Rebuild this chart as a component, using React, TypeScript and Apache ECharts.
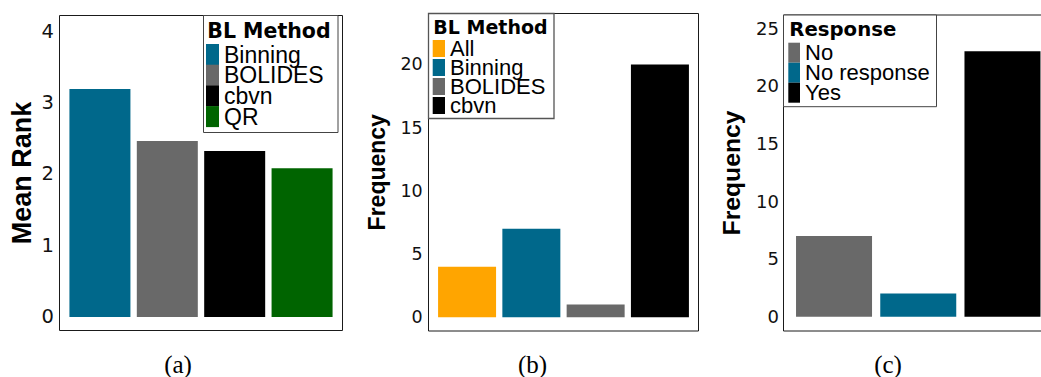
import React, { useEffect, useRef } from "react";
import * as echarts from "echarts";

// ---------- data ----------
const methodsA = ["Binning", "BOLIDES", "cbvn", "QR"];
const meanRankA = [3.19, 2.46, 2.32, 2.08];
const colorsA = ["#00688B", "#696969", "#000000", "#006400"];
const ticksA = [0, 1, 2, 3, 4];

const methodsB = ["All", "Binning", "BOLIDES", "cbvn"];
const freqB = [4, 7, 1, 20];
const colorsB = ["#FFA500", "#00688B", "#696969", "#000000"];
const ticksB = [0, 5, 10, 15, 20];

const responsesC = ["No", "No response", "Yes"];
const freqC = [7, 2, 23];
const colorsC = ["#696969", "#00688B", "#000000"];
const ticksC = [0, 5, 10, 15, 20, 25];

const captions = ["(a)", "(b)", "(c)"];

// ---------- styling ----------
const SANS = "'Liberation Sans', Arial, sans-serif";
const DV = "'DejaVu Sans', sans-serif";
const SERIF = "'Liberation Serif', 'Times New Roman', serif";

const mkSeries = (names: string[], values: number[], colors: string[], idx: number, barWidth: number) =>
  names.map((n, i) => ({
    type: "bar",
    name: n,
    xAxisIndex: idx,
    yAxisIndex: idx,
    data: [[i + 1, values[i]]],
    barWidth,
    barGap: "-100%",
    itemStyle: { color: colors[i] },
    silent: true,
  }));

const mkYAxis = (idx: number, min: number, max: number, ticks: number[], name: string, nameSize: number, nameGap: number, labelSize: number, margin: number) => ({
  type: "value",
  gridIndex: idx,
  min,
  max,
  axisLine: { show: false },
  axisTick: { show: false },
  splitLine: { show: false },
  axisLabel: {
    customValues: ticks,
    fontFamily: DV,
    fontSize: labelSize,
    color: "#111",
    margin,
    formatter: (v: number) => (ticks.indexOf(v) >= 0 ? String(v) : ""),
  },
  name,
  nameLocation: "middle",
  nameRotate: 90,
  nameGap,
  nameTextStyle: { fontFamily: SANS, fontWeight: "bold", fontSize: nameSize, color: "#000" },
});

const mkXAxis = (idx: number, n: number) => ({
  type: "value",
  gridIndex: idx,
  min: 0.4,
  max: n + 0.6,
  show: false,
});

const mkLegend = (names: string[], left: number, top: number, iw: number, ih: number, gap: number, fs: number) => ({
  data: names,
  orient: "vertical",
  left,
  top,
  itemWidth: iw,
  itemHeight: ih,
  itemGap: gap,
  padding: 0,
  icon: "rect",
  selectedMode: false,
  z: 10,
  itemStyle: { borderWidth: 0 },
  textStyle: { fontFamily: SANS, fontSize: fs, color: "#000" },
});

const gridStyle = { show: true, borderColor: "#1a1a1a", borderWidth: 1, backgroundColor: "transparent" };

const option = {
  animation: false,
  backgroundColor: "#fff",
  grid: [
    { left: 59.5, top: 15.5, width: 283, height: 315, ...gridStyle },
    { left: 428.5, top: 13.5, width: 270, height: 317.5, ...gridStyle },
    { left: 783.5, top: 15, width: 269.5, height: 316, ...gridStyle },
  ],
  xAxis: [mkXAxis(0, methodsA.length), mkXAxis(1, methodsB.length), mkXAxis(2, responsesC.length)],
  yAxis: [
    mkYAxis(0, -0.19, 4.217, ticksA, "Mean Rank", 27, 23.7, 19.5, 5.5),
    mkYAxis(1, -1.09, 24.03, ticksB, "Frequency", 23, 40.5, 17.5, 5.8),
    mkYAxis(2, -1.24, 26.14, ticksC, "Frequency", 24.7, 39.3, 18, 4.5),
  ],
  legend: [
    mkLegend(methodsA, 206, 43, 13, 21, -2.3, 23),
    mkLegend(methodsB, 432.7, 37.5, 12.3, 17, -3, 22),
    mkLegend(responsesC, 788.3, 41.7, 11.7, 20, -2, 22),
  ],
  series: [
    ...mkSeries(methodsA, meanRankA, colorsA, 0, 61),
    ...mkSeries(methodsB, freqB, colorsB, 1, 58),
    ...mkSeries(responsesC, freqC, colorsC, 2, 76),
  ],
  graphic: [
    { type: "rect", z: 5, shape: { x: 203.5, y: 15.5, width: 134.5, height: 117 }, style: { fill: "#fff", stroke: "#444", lineWidth: 1 } },
    { type: "rect", z: 5, shape: { x: 428.5, y: 13.5, width: 125.5, height: 105 }, style: { fill: "#fff", stroke: "#555", lineWidth: 1.3 } },
    { type: "rect", z: 5, shape: { x: 783.5, y: 15, width: 153, height: 91.7 }, style: { fill: "#fff", stroke: "#444", lineWidth: 1 } },
    { type: "text", z: 6, x: 207.3, y: 31, style: { text: "BL Method", fontFamily: DV, fontWeight: "bold", fontSize: 20.5, fill: "#000", verticalAlign: "middle", align: "left" } },
    { type: "text", z: 6, x: 433.3, y: 27, style: { text: "BL Method", fontFamily: DV, fontWeight: "bold", fontSize: 19, fill: "#000", verticalAlign: "middle", align: "left" } },
    { type: "text", z: 6, x: 789.3, y: 29.7, style: { text: "Response", fontFamily: DV, fontWeight: "bold", fontSize: 19.7, fill: "#000", verticalAlign: "middle", align: "left" } },
    { type: "text", z: 6, x: 178, y: 364, style: { text: captions[0], fontFamily: SERIF, fontSize: 25, fill: "#000", verticalAlign: "middle", align: "center" } },
    { type: "text", z: 6, x: 532.5, y: 364, style: { text: captions[1], fontFamily: SERIF, fontSize: 25, fill: "#000", verticalAlign: "middle", align: "center" } },
    { type: "text", z: 6, x: 888, y: 364, style: { text: captions[2], fontFamily: SERIF, fontSize: 25, fill: "#000", verticalAlign: "middle", align: "center" } },
  ],
};

export default function App() {
  const ref = useRef<HTMLDivElement>(null);
  useEffect(() => {
    const chart = echarts.init(ref.current!, null, { renderer: "svg" });
    chart.setOption(option as any);
    return () => chart.dispose();
  }, []);
  return (
    <div style={{ position: "fixed", left: 0, top: 0, width: 1041, height: 377, overflow: "hidden", background: "#fff" }}>
      <div ref={ref} style={{ width: 1060, height: 377 }} />
    </div>
  );
}
